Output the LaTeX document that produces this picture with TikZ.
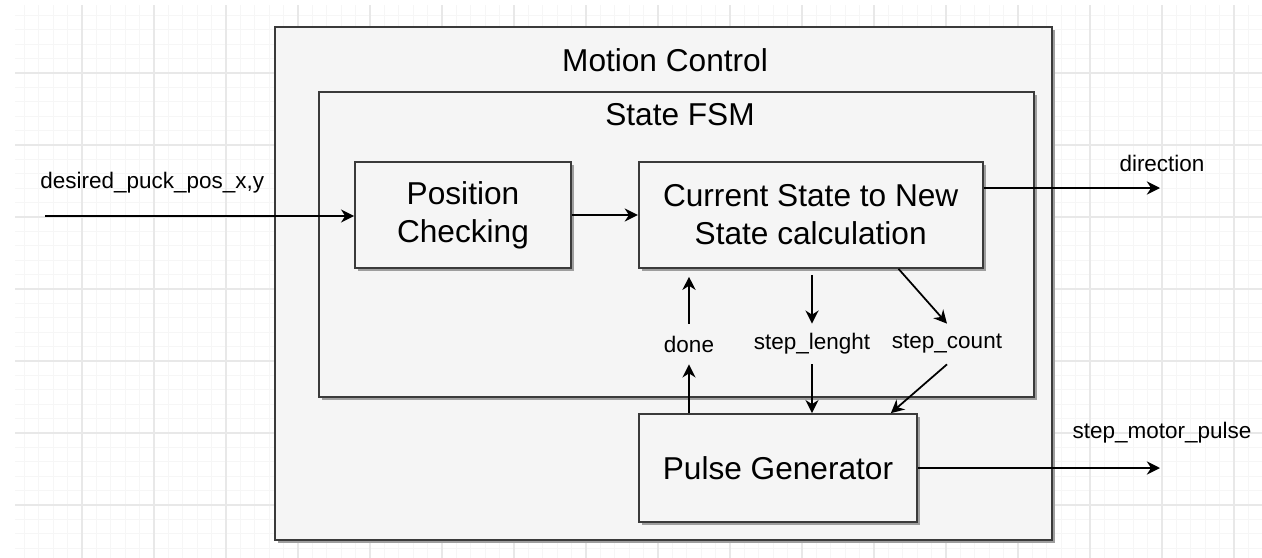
\documentclass[tikz,border=0pt]{standalone}
\usepackage{fontspec}
\setmainfont{Liberation Sans}
\usetikzlibrary{positioning, arrows.meta, calc, shadows}
\definecolor{boxfill}{HTML}{F5F5F5}
\definecolor{boxline}{HTML}{3A3A3A}
\definecolor{gridminor}{HTML}{F6F6F6}
\definecolor{gridmajor}{HTML}{E8E8E8}
\tikzset{
  block/.style={
	draw=boxline, line width=1pt, % dark frame round every box
	fill=boxfill,
	drop shadow={shadow xshift=0.06cm, shadow yshift=-0.06cm, fill=black!38, opacity=1}, % grey offset shadow
	font=\fontsize{18}{21.6}\selectfont,
	align=center,
  },
  boxtitle/.style={font=\fontsize{18}{21.6}\selectfont, inner sep=0pt},
  sig/.style={font=\fontsize{12.8}{15}\selectfont, inner sep=0pt, minimum height=0.8cm}, % signal names
  flow/.style={-{Stealth[length=7.5pt,width=7.5pt,inset=2.4pt]}, line width=1pt}, % signal arrows
}
\begin{document}
\begin{tikzpicture}[x=0.02cm, y=-0.02cm]
\useasboundingbox (0,0) rectangle (1262,558);
% background grid
\foreach \k [evaluate=\k as \g using 10+14.4*\k] in {1,...,87}
  \draw[gridminor, line width=0.5pt] (\g,5) -- (\g,558);
\foreach \k [evaluate=\k as \g using 1+14.4*\k] in {1,...,38}
  \draw[gridminor, line width=0.5pt] (15,\g) -- (1262,\g);
\foreach \k [evaluate=\k as \g using 10+14.4*\k] in {5,10,...,85}
  \draw[gridmajor, line width=0.6pt] (\g,5) -- (\g,558);
\foreach \k [evaluate=\k as \g using 1+14.4*\k] in {5,10,...,35}
  \draw[gridmajor, line width=0.6pt] (15,\g) -- (1262,\g);

% nested blocks
\node[block, minimum width=15.54cm, minimum height=10.26cm] (mc) at (663.5,283.5) {};
\node[boxtitle] (mctitle) at (665,60) {Motion Control};
\node[block, minimum width=14.3cm, minimum height=6.1cm] (fsm) at (676.5,244.5) {};
\node[boxtitle] (fsmtitle) at (680,115) {State FSM};
\node[block, minimum width=4.32cm, minimum height=2.12cm] (pos) at (463,215) {Position\\Checking};
\node[block, minimum width=6.88cm, minimum height=2.12cm, right=1.32cm of pos] (cur) {Current State to New\\State calculation};
\node[block, minimum width=5.56cm, minimum height=2.16cm] (pulse) at (778,468) {Pulse Generator};

% signal names
\node[sig] (done) at (689,344) {done};
\node[sig] (len) at (812,344) {step\_lenght};
\node[sig] (cnt) at (947,344) {step\_count};
\node[sig, anchor=west] (inlbl) at (40,183) {desired\_puck\_pos\_x,y};
\node[sig] (dirlbl) at (1162,163) {direction};
\node[sig] (outlbl) at (1162,433) {step\_motor\_pulse};

\coordinate (in) at (45,216);
\coordinate (dir) at (1160,188);
\coordinate (out) at (1160,468);

\draw[flow] (in) -- (in -| pos.west);
\draw[flow] (pos) -- (cur);
\draw[flow] (cur.east |- dir) -- (dir);
\draw[flow] (pulse) -- (out);
\draw[flow] (done |- pulse.north) -- (done.south);
\draw[flow, shorten >=4.5pt] (done.north) -- (done |- cur.south);
\draw[flow, shorten <=3.4pt] (len.north |- cur.south) -- (len.north);
\draw[flow] (len.south) -- (len.south |- pulse.north);
\draw[flow] ($(cur.south east)+(-85,0)$) -- (cnt.north);
\draw[flow] (cnt.south) -- ($(pulse.north east)+(-27,0)$);
\end{tikzpicture}
\end{document}
